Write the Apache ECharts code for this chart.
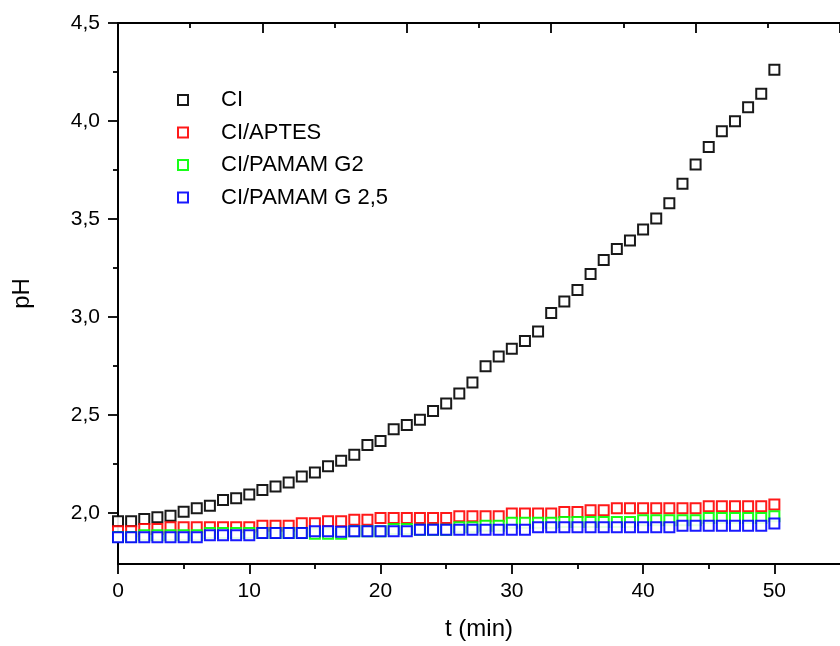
<!DOCTYPE html>
<html>
<head>
<meta charset="utf-8">
<title>pH vs time</title>
<script src="https://cdn.jsdelivr.net/npm/echarts@6/dist/echarts.min.js"></script>
<style>
  html, body { margin: 0; padding: 0; background: #fff; }
  #chart { width: 840px; height: 646px; }
</style>
</head>
<body>
<div id="chart"></div>
<script>
// Time axis (minutes)
const timeMin = [0, 1, 2, 3, 4, 5, 6, 7, 8, 9, 10, 11, 12, 13, 14, 15, 16, 17, 18, 19, 20,
  21, 22, 23, 24, 25, 26, 27, 28, 29, 30, 31, 32, 33, 34, 35, 36, 37, 38, 39, 40,
  41, 42, 43, 44, 45, 46, 47, 48, 49, 50];

// pH readings per sample
const phCI = [1.958, 1.958, 1.970, 1.978, 1.986, 2.007, 2.025, 2.037, 2.066, 2.076, 2.095,
  2.117, 2.136, 2.156, 2.186, 2.207, 2.239, 2.267, 2.297, 2.347, 2.368,
  2.428, 2.449, 2.476, 2.520, 2.559, 2.610, 2.666, 2.749, 2.799, 2.838,
  2.878, 2.926, 3.020, 3.079, 3.138, 3.220, 3.291, 3.347, 3.391, 3.447,
  3.502, 3.580, 3.680, 3.778, 3.868, 3.948, 3.999, 4.070, 4.139, 4.261];

const phAPTES = [1.907, 1.907, 1.919, 1.919, 1.927, 1.927, 1.927, 1.927, 1.927, 1.927, 1.927,
  1.935, 1.935, 1.935, 1.948, 1.948, 1.958, 1.958, 1.966, 1.966, 1.975,
  1.975, 1.975, 1.975, 1.975, 1.975, 1.983, 1.983, 1.983, 1.983, 1.997,
  1.997, 1.997, 1.997, 2.005, 2.005, 2.014, 2.014, 2.024, 2.024, 2.024,
  2.024, 2.024, 2.024, 2.024, 2.034, 2.034, 2.034, 2.034, 2.034, 2.044];

const phG2 = [1.878, 1.878, 1.887, 1.887, 1.887, 1.887, 1.887, 1.898, 1.898, 1.898, 1.898,
  1.898, 1.898, 1.898, 1.898, 1.894, 1.894, 1.894, 1.907, 1.907, 1.907,
  1.919, 1.919, 1.915, 1.915, 1.915, 1.927, 1.927, 1.935, 1.935, 1.950,
  1.950, 1.950, 1.950, 1.954, 1.954, 1.954, 1.954, 1.954, 1.954, 1.963,
  1.963, 1.963, 1.963, 1.963, 1.975, 1.975, 1.975, 1.975, 1.975, 1.983];

const phG25 = [1.876, 1.876, 1.876, 1.876, 1.876, 1.876, 1.876, 1.887, 1.887, 1.887, 1.887,
  1.898, 1.898, 1.898, 1.898, 1.907, 1.907, 1.905, 1.907, 1.907, 1.907,
  1.907, 1.907, 1.915, 1.915, 1.915, 1.915, 1.915, 1.915, 1.915, 1.915,
  1.915, 1.927, 1.927, 1.927, 1.927, 1.927, 1.927, 1.927, 1.927, 1.927,
  1.927, 1.927, 1.935, 1.935, 1.935, 1.935, 1.935, 1.935, 1.935, 1.946];

const seriesNames = ['CI', 'CI/APTES', 'CI/PAMAM G2', 'CI/PAMAM G 2,5'];
const seriesColors = ['#000000', '#ff0000', '#00ff00', '#0000ff'];

// Tick positions
const xMajorTicks = [0, 10, 20, 30, 40, 50];
const xMinorTicks = [5, 15, 25, 35, 45];
const yMajorTicks = [2.0, 2.5, 3.0, 3.5, 4.0, 4.5];
const yMinorTicks = [2.25, 2.75, 3.25, 3.75, 4.25];

const FONT = '"Liberation Sans", Arial, sans-serif';
const AXIS_W = 2;
const TICK_W = 1.8;

const commaDecimal = v => Number(v).toFixed(1).replace('.', ',');

function pairs(xs, ys) {
  return xs.map((x, i) => [x, ys[i]]);
}

const allValues = [phCI, phAPTES, phG2, phG25];

const chart = echarts.init(document.getElementById('chart'), null, { renderer: 'canvas' });

chart.setOption({
  backgroundColor: '#ffffff',
  animation: false,
  grid: { left: 118, right: -10, top: 23, bottom: 80, containLabel: false },
  legend: {
    orient: 'vertical',
    left: 172,
    top: 84,
    itemWidth: 10,
    itemHeight: 10,
    itemGap: 10.5,
    textStyle: {
      fontFamily: FONT,
      fontSize: 22,
      lineHeight: 22,
      color: '#000',
      padding: [0, 0, 0, 28]
    },
    data: seriesNames.map(n => ({ name: n, icon: 'emptyRect' }))
  },
  xAxis: [
    {
      type: 'value', position: 'bottom', min: 0, max: 55,
      name: 't (min)', nameLocation: 'middle', nameGap: 53,
      nameTextStyle: { fontFamily: FONT, fontSize: 24, color: '#000' },
      axisLine: { onZero: false, lineStyle: { color: '#000', width: AXIS_W } },
      axisTick: { show: true, inside: false, length: 10, customValues: xMajorTicks,
        lineStyle: { color: '#000', width: TICK_W } },
      axisLabel: { show: true, customValues: xMajorTicks, margin: 17,
        fontFamily: FONT, fontSize: 21, color: '#000' },
      splitLine: { show: false }
    },
    {
      // minor ticks along the bottom
      type: 'value', position: 'bottom', min: 0, max: 55,
      axisLine: { show: false, onZero: false },
      axisTick: { show: true, inside: false, length: 5, customValues: xMinorTicks,
        lineStyle: { color: '#000', width: TICK_W } },
      axisLabel: { show: false },
      splitLine: { show: false }
    },
    {
      // frame along the top
      type: 'value', position: 'top', min: 0, max: 55, interval: 11,
      axisLine: { show: true, onZero: false, lineStyle: { color: '#000', width: AXIS_W } },
      axisTick: { show: true, inside: true, length: 10, lineStyle: { color: '#000', width: TICK_W } },
      minorTick: { show: true, splitNumber: 2, length: 5, lineStyle: { color: '#000', width: TICK_W } },
      axisLabel: { show: false },
      splitLine: { show: false }
    }
  ],
  yAxis: [
    {
      type: 'value', position: 'left', min: 1.74, max: 4.5,
      name: 'pH', nameLocation: 'middle', nameGap: 84, nameRotate: 90,
      nameTextStyle: { fontFamily: FONT, fontSize: 24, color: '#000' },
      axisLine: { show: true, onZero: false, lineStyle: { color: '#000', width: AXIS_W } },
      axisTick: { show: true, inside: false, length: 10, customValues: yMajorTicks,
        lineStyle: { color: '#000', width: TICK_W } },
      axisLabel: { show: true, customValues: yMajorTicks, margin: 18,
        formatter: commaDecimal, fontFamily: FONT, fontSize: 21, color: '#000' },
      splitLine: { show: false }
    },
    {
      // minor ticks along the left
      type: 'value', position: 'left', min: 1.74, max: 4.5,
      axisLine: { show: false, onZero: false },
      axisTick: { show: true, inside: false, length: 5, customValues: yMinorTicks,
        lineStyle: { color: '#000', width: TICK_W } },
      axisLabel: { show: false },
      splitLine: { show: false }
    }
  ],
  series: seriesNames.map((name, i) => ({
    name: name,
    type: 'scatter',
    xAxisIndex: 0,
    yAxisIndex: 0,
    symbol: 'emptyRect',
    symbolSize: 10,
    itemStyle: { color: seriesColors[i], borderWidth: 1.5, opacity: 0.9 },
    data: pairs(timeMin, allValues[i])
  }))
});
</script>
</body>
</html>
